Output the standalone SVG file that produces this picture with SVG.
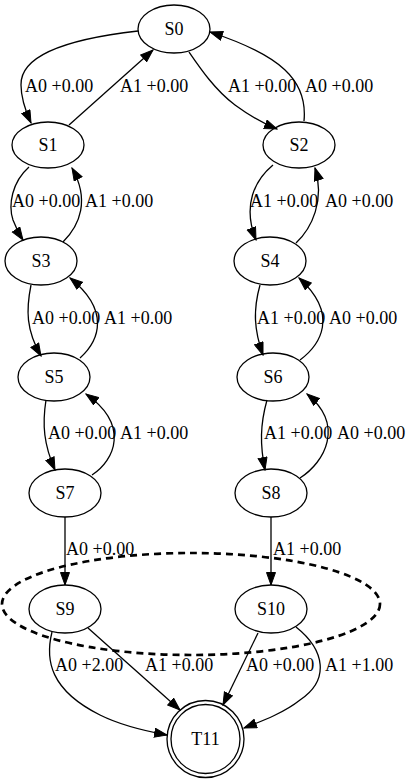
<svg xmlns="http://www.w3.org/2000/svg" width="412" height="783" viewBox="0 0 412 783">
<style>
text{font-family:"Liberation Serif","Times New Roman",serif;font-size:18px;fill:#000}
.n ellipse,.n circle{fill:none;stroke:#000;stroke-width:1.3}
.n text{text-anchor:middle}
.e path{fill:none;stroke:#000;stroke-width:1.3;marker-end:url(#arr)}
.cl{fill:none;stroke:#000;stroke-width:2.7;stroke-dasharray:7,5}
</style>
<defs>
<marker id="arr" markerUnits="userSpaceOnUse" markerWidth="14" markerHeight="12" refX="13" refY="5" orient="auto">
<path d="M0.5,0.5 L13,5 L0.5,9.5 z" fill="#000" stroke="#000" stroke-width="1"/>
</marker>
</defs>
<rect width="412" height="783" fill="#fff"/>
<ellipse id="cluster" class="cl" cx="191" cy="604" rx="189" ry="51"/>
<g id="edges" class="e">
<path d="M138,31 C85,37 20,50 21,85 C21,100 26,112 31,123"/>
<path d="M69,125 L153,50"/>
<path d="M189,52 C200,68 215,90 235,105 C250,116 262,123 277,129"/>
<path d="M304,121 C308,80 280,55 210,32"/>
<path d="M29,167 C12,182 8,205 13,220 C16,228 19,234 23,240"/>
<path d="M63,242 C80,225 90,200 72,168"/>
<path d="M273,165 C255,180 242,205 256,240"/>
<path d="M296,243 C312,228 325,200 315,168"/>
<path d="M31,285 C26,310 26,330 41,356"/>
<path d="M80,358 C100,340 110,310 70,278"/>
<path d="M260,285 C253,310 254,330 263,355"/>
<path d="M300,360 C320,345 340,315 299,278"/>
<path d="M46,400 C42,425 44,445 55,470"/>
<path d="M92,475 C115,460 130,425 86,394"/>
<path d="M267,400 C260,425 260,445 265,470"/>
<path d="M300,478 C325,462 345,425 307,394"/>
<path d="M65,517 L65,585"/>
<path d="M271,517 L271,585"/>
<path d="M52,632 C45,660 50,690 100,715 C120,725 145,731 167,735"/>
<path d="M88,628 L180,710"/>
<path d="M258,633 L223,705"/>
<path d="M296,627 C325,650 330,680 300,700 C285,712 265,720 244,728"/>
<g id="edge-labels">
<text x="25" y="92">A0 +0.00</text>
<text x="120" y="92">A1 +0.00</text>
<text x="228" y="92">A1 +0.00</text>
<text x="305" y="92">A0 +0.00</text>
<text x="12" y="207">A0 +0.00</text>
<text x="85" y="207">A1 +0.00</text>
<text x="250" y="207">A1 +0.00</text>
<text x="325" y="207">A0 +0.00</text>
<text x="32" y="324">A0 +0.00</text>
<text x="104" y="324">A1 +0.00</text>
<text x="257" y="324">A1 +0.00</text>
<text x="329" y="324">A0 +0.00</text>
<text x="48" y="439">A0 +0.00</text>
<text x="120" y="439">A1 +0.00</text>
<text x="264" y="439">A1 +0.00</text>
<text x="337" y="439">A0 +0.00</text>
<text x="66" y="555">A0 +0.00</text>
<text x="273" y="555">A1 +0.00</text>
<text x="55" y="671">A0 +2.00</text>
<text x="145" y="671">A1 +0.00</text>
<text x="246" y="671">A0 +0.00</text>
<text x="325" y="671">A1 +1.00</text>
</g>
</g>
<g id="S0" class="n"><ellipse cx="174" cy="29" rx="36" ry="24"/><text x="174" y="35">S0</text></g>
<g id="S1" class="n"><ellipse cx="48" cy="145" rx="36" ry="23"/><text x="48" y="151">S1</text></g>
<g id="S2" class="n"><ellipse cx="299" cy="145" rx="36" ry="23"/><text x="299" y="151">S2</text></g>
<g id="S3" class="n"><ellipse cx="41" cy="261" rx="36" ry="24"/><text x="41" y="267">S3</text></g>
<g id="S4" class="n"><ellipse cx="270" cy="261" rx="36" ry="24"/><text x="270" y="267">S4</text></g>
<g id="S5" class="n"><ellipse cx="54" cy="377" rx="36" ry="24"/><text x="54" y="383">S5</text></g>
<g id="S6" class="n"><ellipse cx="273" cy="377" rx="36" ry="24"/><text x="273" y="383">S6</text></g>
<g id="S7" class="n"><ellipse cx="65" cy="493" rx="36" ry="24"/><text x="65" y="499">S7</text></g>
<g id="S8" class="n"><ellipse cx="271" cy="493" rx="36" ry="24"/><text x="271" y="499">S8</text></g>
<g id="S9" class="n"><ellipse cx="65" cy="609" rx="36" ry="24"/><text x="65" y="615">S9</text></g>
<g id="S10" class="n"><ellipse cx="271" cy="609" rx="36" ry="24"/><text x="271" y="615">S10</text></g>
<g id="T11" class="n"><circle cx="205.5" cy="739" r="38.5"/><circle cx="205.5" cy="739" r="34.5"/><text x="205.5" y="745">T11</text></g>
</svg>
